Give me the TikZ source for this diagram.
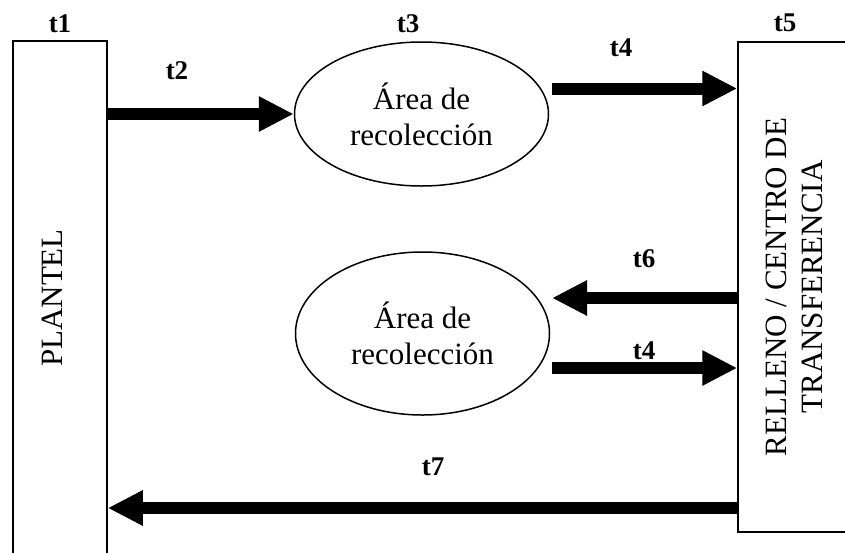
\documentclass[tikz,border=0pt]{standalone}
\usepackage{fontspec}
\setmainfont{Liberation Serif}
\usetikzlibrary{arrows.meta,shapes.geometric}
\begin{document}
\begin{tikzpicture}[x=0.5pt,y=-0.5pt,
  box/.style={draw,line width=0.75pt,rectangle,inner sep=0pt},
  oval/.style={draw,line width=0.75pt,ellipse,inner sep=0pt,minimum width=127pt,align=center,font=\fontsize{15.5}{18}\selectfont},
  lbl/.style={font=\fontsize{13.5}{16}\selectfont\bfseries,inner sep=0pt},
  flow/.style={line width=6pt,-{Triangle[length=17.5pt,width=16.5pt]}},
  boxtext/.style={rotate=90,align=center,inner sep=0pt,font=\fontsize{15.5}{18}\selectfont}]
\useasboundingbox (0,0) rectangle (845,552);
\clip (0,0) rectangle (845,552);
% boxes
\node[box,minimum width=47pt,minimum height=257.5pt] (plantel) at (60,298.5) {};
\node[boxtext] (plantxt) at (52.5,298) {PLANTEL};
\node[box,minimum width=66pt,minimum height=245pt] (relleno) at (804,287) {};
\node[boxtext] (rtxt) at (794,287) {RELLENO / CENTRO DE\\TRANSFERENCIA};
% ellipses
\node[oval,minimum height=72pt] (e1) at (421.5,114) {Área de\\recolección};
\node[oval,minimum height=81.5pt] (e2) at (422.5,333.5) {Área de\\recolección};
% connectors
\coordinate (a4s) at (552,88.5);
\coordinate (a6e) at (552,298);
\coordinate (a4bs) at (552,368);
\coordinate (a7y) at (0,508);
\draw[flow] (plantel.east |- e1.west) -- (e1.west);
\draw[flow] (a4s) -- (a4s -| relleno.west);
\draw[flow] (a6e -| relleno.west) -- (a6e);
\draw[flow] (a4bs) -- (a4bs -| relleno.west);
\draw[flow] (a7y -| relleno.west) -- (a7y -| plantel.east);
% labels
\node[lbl] (l1) at (60,24) {t1};
\node[lbl] (l2) at (177,71) {t2};
\node[lbl] (l3) at (408,24) {t3};
\node[lbl] (l4a) at (621,48) {t4};
\node[lbl] (l5) at (785,23) {t5};
\node[lbl] (l6) at (644,259) {t6};
\node[lbl] (l4b) at (644,351) {t4};
\node[lbl] (l7) at (433,467) {t7};
\end{tikzpicture}
\end{document}
